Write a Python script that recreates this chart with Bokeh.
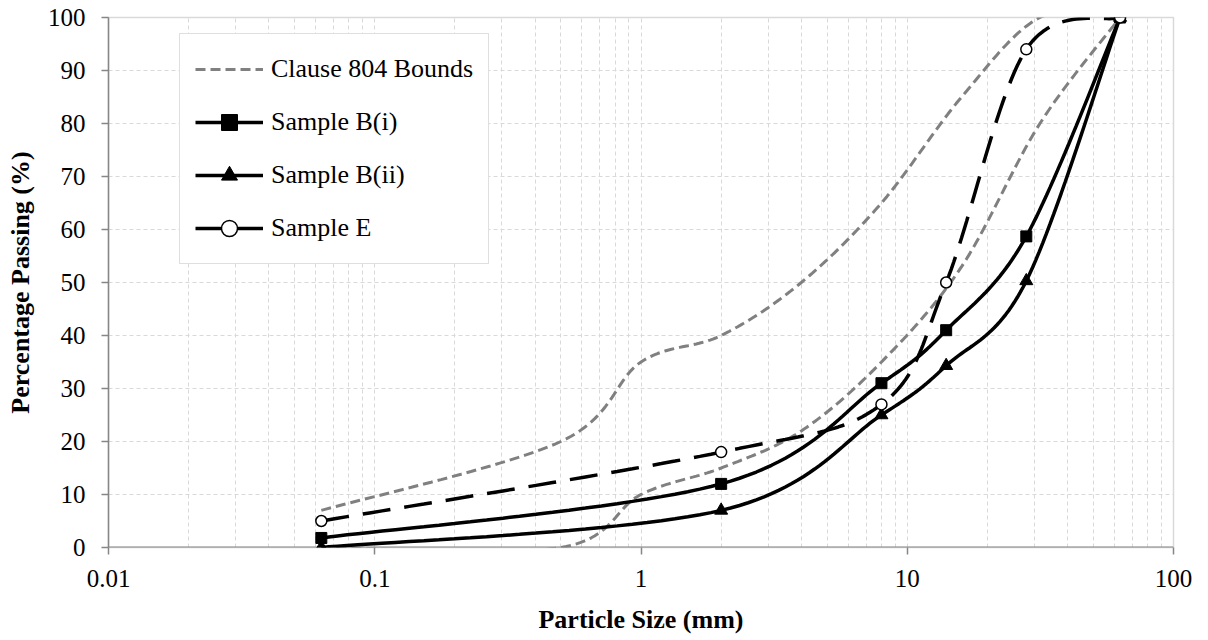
import numpy as np
from bokeh.plotting import figure
from bokeh.models import FixedTicker, NumeralTickFormatter, Legend, LegendItem, Range1d, Span
from bokeh.embed import file_html
from bokeh.resources import INLINE

# ---------------- data ----------------
sieve_bounds = [0.063, 0.5, 1, 2, 4, 8, 16, 31.5, 63]
upper_bound = [7, 20, 35, 40, 50, 65, 85, 100, 100]
lower_bound = [0, 0, 10, 15, 22, 35, 53, 80, 100]

sieve_samples = [0.063, 2, 8, 14, 28, 63]
sample_b_i = [1.8, 12, 31, 41, 58.7, 100]
sample_b_ii = [0, 7, 25, 34.3, 50.3, 100]
sample_e = [5, 18, 27, 50, 94, 100]

x_ticks = [0.01, 0.1, 1, 10, 100]
y_ticks = list(range(0, 101, 10))
x_minor = [m * 10.0 ** e for e in range(-2, 2) for m in range(2, 10)]

FONT = "Liberation Serif"
FRAME_W, FRAME_H = 1065, 530
PX_DEC = FRAME_W / 4.0      # pixels per decade
PX_UNIT = FRAME_H / 100.0   # pixels per percent


def smooth(xs, ys, n=30):
    """Excel-like smoothed line: cubic Bezier (Catmull-Rom) in screen space."""
    pts = np.column_stack([np.log10(xs) * PX_DEC, np.asarray(ys, float) * PX_UNIT])
    m = len(pts)
    out = [pts[0]]
    t = np.linspace(0, 1, n)[1:, None]
    for i in range(m - 1):
        p0 = pts[i - 1] if i > 0 else pts[i]
        p1, p2 = pts[i], pts[i + 1]
        p3 = pts[i + 2] if i + 2 < m else pts[i + 1]
        c1 = p1 + (p2 - p0) / 6.0
        c2 = p2 - (p3 - p1) / 6.0
        b = (1 - t) ** 3 * p1 + 3 * (1 - t) ** 2 * t * c1 + 3 * (1 - t) * t ** 2 * c2 + t ** 3 * p2
        out.extend(b)
    out = np.array(out)
    return 10 ** (out[:, 0] / PX_DEC), out[:, 1] / PX_UNIT


p = figure(x_axis_type="log", x_range=Range1d(0.01, 100), y_range=Range1d(0, 100),
           frame_width=FRAME_W, frame_height=FRAME_H,
           min_border_left=108, min_border_top=17, min_border_right=35, min_border_bottom=93,
           output_backend="svg", toolbar_location=None)
p.background_fill_color = "white"
p.border_fill_color = "white"
p.outline_line_color = "#d9d9d9"
p.outline_line_width = 1.5

AXIS_GRAY = "#868686"
# axes
xt = FixedTicker(ticks=x_ticks, minor_ticks=x_minor)
yt = FixedTicker(ticks=y_ticks)
p.xaxis.ticker = xt
p.yaxis.ticker = yt
p.xgrid.ticker = xt
p.ygrid.ticker = yt
p.xaxis.formatter = NumeralTickFormatter(format="0.[00]")
for ax in (p.xaxis, p.yaxis):
    ax.axis_line_color = AXIS_GRAY
    ax.axis_line_width = 1.5
    ax.major_tick_line_color = AXIS_GRAY
    ax.major_tick_line_width = 1.5
    ax.major_tick_out = 7
    ax.major_tick_in = 0
    ax.minor_tick_line_color = None
    ax.major_label_text_font = FONT
    ax.major_label_text_font_size = "25px"
    ax.major_label_text_color = "black"
    ax.axis_label_text_font = FONT
    ax.axis_label_text_font_size = "26px"
    ax.axis_label_text_font_style = "bold"
    ax.axis_label_text_color = "black"
p.xaxis.axis_line_color = None
p.xaxis.axis_label = "Particle Size (mm)"
p.yaxis.axis_label = "Percentage Passing (%)"
p.xaxis.major_label_standoff = 15
p.yaxis.major_label_standoff = 16
p.xaxis.axis_label_standoff = 15
p.yaxis.axis_label_standoff = 10

p.xgrid.grid_line_color = "#d9d9d9"
p.xgrid.grid_line_dash = "4 3"
p.xgrid.minor_grid_line_color = "#d9d9d9"
p.xgrid.minor_grid_line_dash = "4 3"
p.ygrid.grid_line_color = "#d9d9d9"
p.ygrid.grid_line_dash = "4 3"

# x-axis baseline drawn beneath the series (as in the reference)
p.add_layout(Span(location=0, dimension="width", line_color=AXIS_GRAY, line_width=2, level="underlay"))

GRAY = "#808080"
ux, uy = smooth(sieve_bounds, upper_bound)
lx, ly = smooth(sieve_bounds, lower_bound)
r_up = p.line(ux, uy, line_color=GRAY, line_width=3, line_dash="10 5")
p.line(lx, ly, line_color=GRAY, line_width=3, line_dash="10 5")

bx, by = smooth(sieve_samples, sample_b_i)
r_bi = p.line(bx, by, line_color="black", line_width=3.5)
m_bi = p.scatter(sieve_samples, sample_b_i, marker="square", size=11, fill_color="black", line_color="black")

b2x, b2y = smooth(sieve_samples, sample_b_ii)
r_bii = p.line(b2x, b2y, line_color="black", line_width=3.5)
m_bii = p.scatter(sieve_samples, sample_b_ii, marker="triangle", size=13, fill_color="black", line_color="black")

ex, ey = smooth(sieve_samples, sample_e)
r_e = p.line(ex, ey, line_color="black", line_width=3.5, line_dash="28 14")
m_e = p.scatter(sieve_samples, sample_e, marker="circle", size=11, fill_color="white", line_color="black", line_width=1.5)

legend = Legend(items=[
    LegendItem(label="Clause 804 Bounds", renderers=[r_up]),
    LegendItem(label="Sample B(i)", renderers=[r_bi, m_bi]),
    LegendItem(label="Sample B(ii)", renderers=[r_bii, m_bii]),
    LegendItem(label="Sample E", renderers=[r_e, m_e]),
])
legend.location = (71, 283)
legend.border_line_color = "#bfbfbf"
legend.border_line_width = 1.5
legend.background_fill_color = "white"
legend.background_fill_alpha = 1
legend.label_text_font = FONT
legend.label_text_font_size = "26px"
legend.label_text_color = "black"
legend.glyph_width = 68
legend.glyph_height = 40
legend.label_height = 40
legend.spacing = 13
legend.padding = 15
legend.margin = 0
legend.label_standoff = 8
p.add_layout(legend)

open("out.html", "w").write(file_html(p, INLINE))
